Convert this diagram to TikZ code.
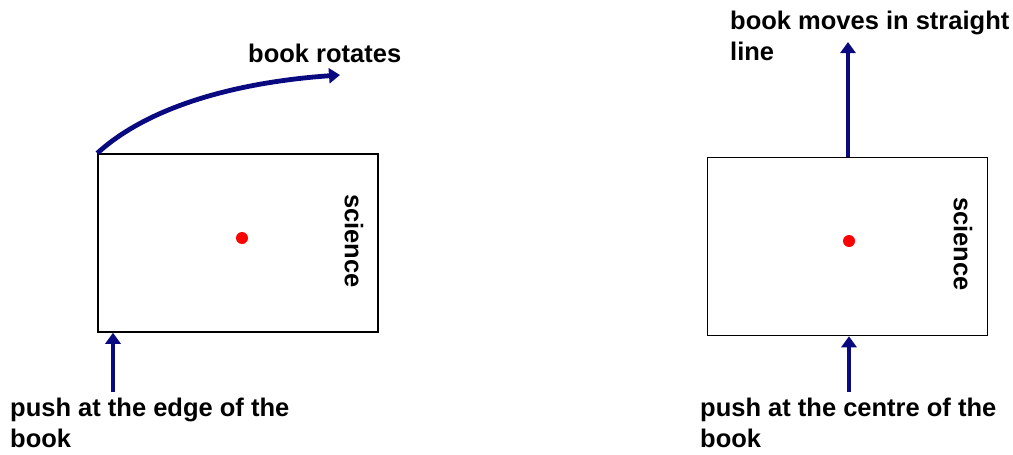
\documentclass[tikz,border=0pt]{standalone}
\usepackage{fontspec}
\setmainfont{Liberation Sans}
\usetikzlibrary{arrows.meta}
\definecolor{arrowblue}{RGB}{10,10,128}
\begin{document}
\begin{tikzpicture}[x=1pt,y=-1pt,
  book/.style={draw=black,line width=1.5pt,inner sep=0pt,minimum width=280pt,minimum height=178pt},
  cdot/.style={circle,fill=red,inner sep=0pt,minimum size=12pt},
  lbl/.style={font=\fontsize{25.5}{30.5}\selectfont\bfseries,inner sep=0pt,align=left,anchor=base west},
  spine/.style={font=\fontsize{25.5}{30.5}\selectfont\bfseries,inner sep=0pt,rotate=-90},
  force/.style={draw=arrowblue,line width=4.8pt,-{Triangle[length=11pt,width=15pt]}}]
\useasboundingbox (0,0) rectangle (1013,455);
% left book
\node[book] (lbook) at (238,243) {};
\node[cdot] (ldot) at (242,238) {};
\node[spine] (lsci) at (354,241) {science};
\coordinate (ltip) at (340,75);
\coordinate (lpush) at (113,392);
\draw[force] (lbook.north west) .. controls (150,105) and (240,82) .. (ltip);
\draw[force] (lpush) -- (lpush |- lbook.south);
\node[lbl] (ltop) at (248,62) {book rotates};
\node[lbl] (lbot) at (10,447) {push at the edge of the\\book};
% right book
\node[book] (rbook) at (847.5,246.5) {};
\node[cdot] (rdot) at (849,241) {};
\node[spine] (rsci) at (963,244) {science};
\coordinate (rtip) at (848,42);
\coordinate (rpush) at (849,392);
\draw[force] (rbook.north -| rtip) -- (rtip);
\draw[force] (rpush) -- (rpush |- rbook.south);
\node[lbl] (rtop) at (730,60) {book moves in straight\\line};
\node[lbl] (rbot) at (700,447) {push at the centre of the\\book};
\end{tikzpicture}
\end{document}
